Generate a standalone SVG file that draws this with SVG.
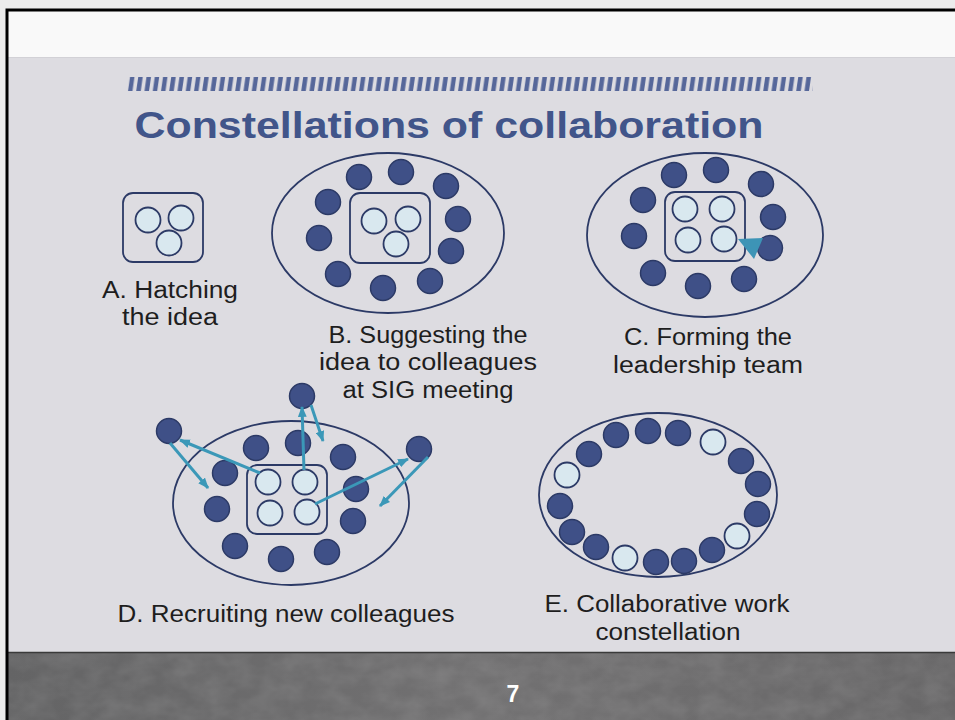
<svg xmlns="http://www.w3.org/2000/svg" width="955" height="720" viewBox="0 0 955 720">
  <style>
    .dark { fill: #3f5087; stroke: #2c3a66; stroke-width: 1.5; }
    .lite { fill: #d9e8ef; stroke: #2c3a66; stroke-width: 1.8; }
    .ring { fill: none; stroke: #2c3a66; stroke-width: 1.8; }
    .box { fill: none; stroke: #2c3a66; stroke-width: 1.8; }
    .lbl { font-family: "Liberation Sans", Arial, sans-serif; font-size: 23px; fill: #1e1e1e; text-anchor: middle; }
    .link { stroke: #3b98b8; stroke-width: 3; fill: none; marker-end: url(#head); }
  </style>
  <defs>
    <marker id="head" viewBox="0 0 10 8" refX="9" refY="4" markerWidth="11" markerHeight="9" markerUnits="userSpaceOnUse" orient="auto">
      <path d="M0,0 L10,4 L0,8 z" fill="#3b98b8"/>
    </marker>
    <pattern id="ticks" patternUnits="userSpaceOnUse" x="127" y="77" width="8.25" height="14">
      <path d="M1,14 L3,0 L7.5,0 L5.5,14 z" fill="#56679a"/>
    </pattern>
    <linearGradient id="floor" x1="0" y1="0" x2="1" y2="0">
      <stop offset="0" stop-color="#646465"/>
      <stop offset="0.5" stop-color="#727172"/>
      <stop offset="1" stop-color="#686768"/>
    </linearGradient>
    <filter id="grain" x="0" y="0" width="1" height="1">
      <feTurbulence type="fractalNoise" baseFrequency="0.04 0.06" numOctaves="3" seed="4"/>
      <feColorMatrix type="matrix" values="0 0 0 0 0.8  0 0 0 0 0.8  0 0 0 0 0.8  0 0 0 0.18 -0.05"/>
    </filter>
  </defs>

  <!-- slide background -->
  <rect x="0" y="0" width="955" height="720" fill="#ececec"/>
  <rect x="7" y="10" width="948" height="710" fill="#dddce1"/>
  <rect x="7" y="10" width="948" height="47" fill="#f9f9f9"/>
  <line x1="7" y1="57.5" x2="955" y2="57.5" stroke="#d2d1d6" stroke-width="1"/>
  <rect x="7" y="652" width="948" height="68" fill="url(#floor)"/>
  <rect x="7" y="652" width="948" height="68" filter="url(#grain)"/>
  <line x1="7" y1="652.5" x2="955" y2="652.5" stroke="#3a3a3a" stroke-width="1.5"/>
  <path d="M7,720 V10 H955" fill="none" stroke="#000" stroke-width="3"/>

  <!-- title -->
  <rect x="127" y="77" width="686" height="14" fill="url(#ticks)"/>
  <text x="449" y="138" font-family="'Liberation Sans', Arial, sans-serif" font-weight="bold" font-size="37" fill="#41558a" text-anchor="middle" textLength="629" lengthAdjust="spacingAndGlyphs">Constellations of collaboration</text>

  <!-- A: hatching the idea -->
  <g id="panel-a">
    <rect class="box" x="123" y="193" width="80" height="69" rx="10"/>
    <circle class="lite" cx="148" cy="220" r="12.5"/>
    <circle class="lite" cx="181" cy="218" r="12.5"/>
    <circle class="lite" cx="169" cy="243" r="12.5"/>
    <text class="lbl" x="170" y="298" textLength="136" lengthAdjust="spacingAndGlyphs">A. Hatching</text>
    <text class="lbl" x="170" y="325" textLength="96" lengthAdjust="spacingAndGlyphs">the idea</text>
  </g>

  <!-- B: suggesting the idea -->
  <g id="panel-b">
    <ellipse class="ring" cx="388" cy="233" rx="116" ry="80"/>
    <rect class="box" x="350" y="193" width="80" height="70" rx="10"/>
    <circle class="lite" cx="374" cy="221" r="12.5"/>
    <circle class="lite" cx="408" cy="219" r="12.5"/>
    <circle class="lite" cx="396" cy="244" r="12.5"/>
    <circle class="dark" cx="359" cy="177" r="12.5"/>
    <circle class="dark" cx="401" cy="172" r="12.5"/>
    <circle class="dark" cx="446" cy="186" r="12.5"/>
    <circle class="dark" cx="328" cy="202" r="12.5"/>
    <circle class="dark" cx="458" cy="219" r="12.5"/>
    <circle class="dark" cx="319" cy="238" r="12.5"/>
    <circle class="dark" cx="451" cy="251" r="12.5"/>
    <circle class="dark" cx="338" cy="274" r="12.5"/>
    <circle class="dark" cx="383" cy="288" r="12.5"/>
    <circle class="dark" cx="430" cy="281" r="12.5"/>
    <text class="lbl" x="428" y="343" textLength="199" lengthAdjust="spacingAndGlyphs">B. Suggesting the</text>
    <text class="lbl" x="428" y="370" textLength="218" lengthAdjust="spacingAndGlyphs">idea to colleagues</text>
    <text class="lbl" x="428" y="398" textLength="171" lengthAdjust="spacingAndGlyphs">at SIG meeting</text>
  </g>

  <!-- C: forming the leadership team -->
  <g id="panel-c">
    <ellipse class="ring" cx="705" cy="235" rx="118" ry="82"/>
    <rect class="box" x="665" y="192" width="80" height="69" rx="10"/>
    <circle class="lite" cx="685" cy="209" r="12.5"/>
    <circle class="lite" cx="722" cy="209" r="12.5"/>
    <circle class="lite" cx="688" cy="240" r="12.5"/>
    <circle class="lite" cx="724" cy="239" r="12.5"/>
    <circle class="dark" cx="674" cy="175" r="12.5"/>
    <circle class="dark" cx="716" cy="170" r="12.5"/>
    <circle class="dark" cx="761" cy="184" r="12.5"/>
    <circle class="dark" cx="643" cy="200" r="12.5"/>
    <circle class="dark" cx="773" cy="217" r="12.5"/>
    <circle class="dark" cx="634" cy="236" r="12.5"/>
    <circle class="dark" cx="770" cy="248" r="12.5"/>
    <circle class="dark" cx="653" cy="273" r="12.5"/>
    <circle class="dark" cx="698" cy="286" r="12.5"/>
    <circle class="dark" cx="744" cy="279" r="12.5"/>
    <path d="M738,239 L763,238 L754,259 z" fill="#3d94b6"/>
    <text class="lbl" x="708" y="345" textLength="168" lengthAdjust="spacingAndGlyphs">C. Forming the</text>
    <text class="lbl" x="708" y="373" textLength="190" lengthAdjust="spacingAndGlyphs">leadership team</text>
  </g>

  <!-- D: recruiting new colleagues -->
  <g id="panel-d">
    <ellipse class="ring" cx="291" cy="503" rx="118" ry="82"/>
    <rect class="box" x="247" y="465" width="80" height="69" rx="10"/>
    <circle class="lite" cx="268" cy="482" r="12.5"/>
    <circle class="lite" cx="305" cy="482" r="12.5"/>
    <circle class="lite" cx="270" cy="513" r="12.5"/>
    <circle class="lite" cx="307" cy="512" r="12.5"/>
    <circle class="dark" cx="256" cy="448" r="12.5"/>
    <circle class="dark" cx="298" cy="443" r="12.5"/>
    <circle class="dark" cx="343" cy="457" r="12.5"/>
    <circle class="dark" cx="225" cy="473" r="12.5"/>
    <circle class="dark" cx="356" cy="489" r="12.5"/>
    <circle class="dark" cx="217" cy="509" r="12.5"/>
    <circle class="dark" cx="353" cy="521" r="12.5"/>
    <circle class="dark" cx="235" cy="546" r="12.5"/>
    <circle class="dark" cx="281" cy="559" r="12.5"/>
    <circle class="dark" cx="327" cy="552" r="12.5"/>
    <text class="lbl" x="286" y="622" textLength="337" lengthAdjust="spacingAndGlyphs">D. Recruiting new colleagues</text>
  </g>
  <g id="recruit-left">
    <circle class="dark" cx="169" cy="431" r="12.5"/>
  </g>
  <g id="recruit-top">
    <circle class="dark" cx="302" cy="396" r="12.5"/>
  </g>
  <g id="recruit-right">
    <circle class="dark" cx="419" cy="449" r="12.5"/>
  </g>

  <!-- recruitment links -->
  <g id="connectors">
    <line class="link" x1="260" y1="473" x2="180" y2="440"/>
    <line class="link" x1="170" y1="443" x2="208" y2="488"/>
    <line class="link" x1="304" y1="470" x2="302" y2="407"/>
    <line class="link" x1="311" y1="405" x2="323" y2="441"/>
    <line class="link" x1="315" y1="504" x2="408" y2="459"/>
    <line class="link" x1="428" y1="457" x2="380" y2="506"/>
  </g>

  <!-- E: collaborative work constellation -->
  <g id="panel-e">
    <ellipse class="ring" cx="658" cy="495" rx="119" ry="82"/>
    <circle class="dark" cx="616" cy="435" r="12.5"/>
    <circle class="dark" cx="648" cy="431" r="12.5"/>
    <circle class="dark" cx="678" cy="433" r="12.5"/>
    <circle class="lite" cx="713" cy="442" r="12.5"/>
    <circle class="dark" cx="589" cy="454" r="12.5"/>
    <circle class="dark" cx="741" cy="461" r="12.5"/>
    <circle class="lite" cx="567" cy="475" r="12.5"/>
    <circle class="dark" cx="758" cy="484" r="12.5"/>
    <circle class="dark" cx="560" cy="506" r="12.5"/>
    <circle class="dark" cx="757" cy="514" r="12.5"/>
    <circle class="dark" cx="572" cy="532" r="12.5"/>
    <circle class="lite" cx="737" cy="536" r="12.5"/>
    <circle class="dark" cx="596" cy="547" r="12.5"/>
    <circle class="dark" cx="712" cy="550" r="12.5"/>
    <circle class="lite" cx="625" cy="558" r="12.5"/>
    <circle class="dark" cx="656" cy="562" r="12.5"/>
    <circle class="dark" cx="684" cy="561" r="12.5"/>
    <text class="lbl" x="667" y="612" textLength="245" lengthAdjust="spacingAndGlyphs">E. Collaborative work</text>
    <text class="lbl" x="668" y="640" textLength="145" lengthAdjust="spacingAndGlyphs">constellation</text>
  </g>

  <!-- slide number -->
  <text x="513" y="702" font-family="'Liberation Sans', Arial, sans-serif" font-weight="bold" font-size="23" fill="#ffffff" text-anchor="middle">7</text>
</svg>
